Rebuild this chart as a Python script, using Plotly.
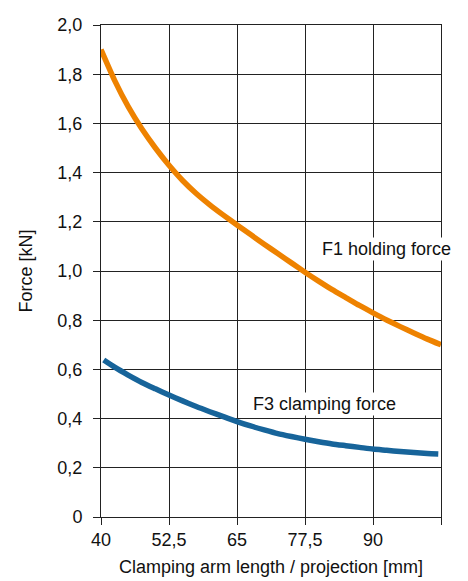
import plotly.graph_objects as go

# Data
f1_x = [40, 42.5, 45, 47.5, 50, 52.5, 55, 57.5, 60, 62.5, 65, 67.5, 70, 72.5, 75, 77.5,
        80, 82.5, 85, 87.5, 90, 92.5, 95, 97.5, 100, 102.5]
f1_y = [1.900, 1.775, 1.668, 1.578, 1.500, 1.430, 1.368, 1.315, 1.269, 1.227, 1.187, 1.148,
        1.109, 1.071, 1.033, 0.995, 0.959, 0.924, 0.892, 0.860, 0.830, 0.801, 0.774, 0.748,
        0.723, 0.700]

f3_x = [40.5, 42.5, 45, 47.5, 50, 52.5, 55, 57.5, 60, 62.5, 65, 67.5, 70, 72.5, 75, 77.5,
        80, 82.5, 85, 87.5, 90, 92.5, 95, 97.5, 100, 102]
f3_y = [0.638, 0.609, 0.577, 0.547, 0.521, 0.496, 0.472, 0.449, 0.428, 0.408, 0.388, 0.370,
        0.354, 0.339, 0.327, 0.316, 0.306, 0.297, 0.290, 0.283, 0.276, 0.271, 0.266, 0.262,
        0.258, 0.256]

x_tickvals = [40, 52.5, 65, 77.5, 90, 102.5]
x_ticktext = ["40", "52,5", "65", "77,5", "90", ""]
y_tickvals = [0, 0.2, 0.4, 0.6, 0.8, 1.0, 1.2, 1.4, 1.6, 1.8, 2.0]
y_ticktext = ["0", "0,2", "0,4", "0,6", "0,8", "1,0", "1,2", "1,4", "1,6", "1,8", "2,0"]

labels = ["F1 holding force", "F3 clamping force"]
label_x = [92.5, 81.0]
label_y = [1.088, 0.461]

ORANGE = "#EE8200"
BLUE = "#17649A"
GRID = "#222222"
FONT = "Liberation Sans, Arial, Helvetica, sans-serif"

fig = go.Figure()
fig.add_trace(go.Scatter(x=f1_x, y=f1_y, mode="lines",
                         line=dict(color=ORANGE, width=5.5, shape="spline", smoothing=0.6),
                         showlegend=False, hoverinfo="skip"))
fig.add_trace(go.Scatter(x=f3_x, y=f3_y, mode="lines",
                         line=dict(color=BLUE, width=5.5, shape="spline", smoothing=0.6),
                         showlegend=False, hoverinfo="skip"))

for t, ax_, ay_ in zip(labels, label_x, label_y):
    fig.add_annotation(x=ax_, y=ay_, text=t, showarrow=False,
                       font=dict(size=18, color="#111111", family=FONT),
                       bgcolor="white", borderpad=1, xanchor="center", yanchor="middle")

# page body has an 8px default margin, so the figure is shrunk/shifted to compensate
fig.update_layout(
    width=460, height=573,
    margin=dict(l=93, r=27, t=17, b=64, autoexpand=False),
    paper_bgcolor="white", plot_bgcolor="white",
    font=dict(family=FONT, size=18, color="#111111"),
)
fig.update_xaxes(range=[40, 102.5], tickvals=x_tickvals, ticktext=x_ticktext,
                 showgrid=True, gridcolor=GRID, gridwidth=1,
                 showline=True, linecolor=GRID, linewidth=1, mirror=True,
                 ticks="outside", ticklen=7, tickcolor=GRID, tickwidth=1,
                 ticklabelstandoff=-1, zeroline=False, automargin=False,
                 title=dict(text="Clamping arm length / projection [mm]", font=dict(size=18), standoff=11))
fig.update_yaxes(range=[0, 2.0], tickvals=y_tickvals, ticktext=y_ticktext,
                 showgrid=True, gridcolor=GRID, gridwidth=1,
                 showline=True, linecolor=GRID, linewidth=1, mirror=True,
                 ticks="outside", ticklen=7, tickcolor=GRID, tickwidth=1,
                 ticklabelstandoff=7, zeroline=False, automargin=False,
                 title=dict(text="Force [kN]", font=dict(size=18), standoff=20))

fig.write_html("out.html")
